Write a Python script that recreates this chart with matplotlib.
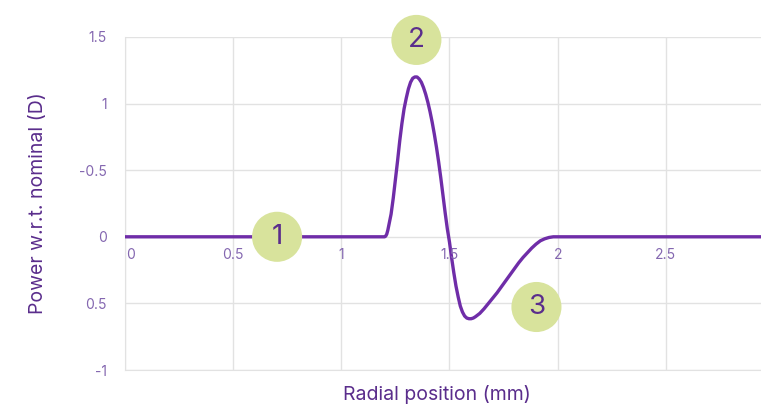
import matplotlib.pyplot as plt

plt.rcParams['font.family'] = ['Inter', 'DejaVu Sans']

# curve
radial = [0, 1.200, 1.205, 1.21, 1.215, 1.22, 1.23, 1.24, 1.25, 1.26, 1.27, 1.28, 1.29,
          1.30, 1.31, 1.32, 1.33, 1.34, 1.35, 1.36, 1.37, 1.38, 1.39, 1.40, 1.41,
          1.42, 1.43, 1.44, 1.45, 1.46, 1.47, 1.48, 1.49, 1.50, 1.51, 1.52, 1.53,
          1.54, 1.55, 1.56, 1.57, 1.58, 1.59, 1.60, 1.61, 1.62, 1.64, 1.66, 1.68,
          1.70, 1.72, 1.74, 1.76, 1.78, 1.80, 1.82, 1.84, 1.86, 1.88, 1.90, 1.92,
          1.94, 1.96, 1.98, 2.94]
power = [0, 0, 0.005, 0.02, 0.05, 0.09, 0.17, 0.29, 0.43, 0.57, 0.72, 0.85, 0.96,
         1.04, 1.11, 1.16, 1.19, 1.2, 1.2, 1.185, 1.16, 1.12, 1.07, 1.01, 0.94,
         0.86, 0.77, 0.67, 0.56, 0.44, 0.31, 0.18, 0.06, -0.04, -0.16, -0.27, -0.37,
         -0.45, -0.52, -0.565, -0.595, -0.61, -0.615, -0.615, -0.61, -0.60, -0.575, -0.54, -0.50,
         -0.46, -0.42, -0.375, -0.33, -0.285, -0.24, -0.195, -0.155, -0.12, -0.085, -0.055, -0.03,
         -0.015, -0.005, 0, 0]

# numbered callouts
marker_x = [0.703, 1.347, 1.902]
marker_y = [0, 1.478, -0.527]
marker_labels = ['1', '2', '3']

x_ticks = [0, 0.5, 1, 1.5, 2, 2.5]
x_tick_labels = ['0', '0.5', '1', '1.5', '2', '2.5']
y_ticks = [-1, -0.5, 0, 0.5, 1, 1.5]
y_tick_labels = ['-1', '0.5', '0', '-0.5', '1', '1.5']

line_color = '#6f2da8'
text_color = '#5a2d8c'
tick_color = '#8467b0'
grid_color = '#e2e2e2'
circle_color = '#d8e39c'

fig = plt.figure(figsize=(7.61, 4.07), dpi=100)
ax = fig.add_axes([125 / 761, 37 / 407, 636 / 761, 333 / 407])

ax.plot(radial, power, color=line_color, lw=2.4, solid_capstyle='round',
        solid_joinstyle='round', zorder=3)

ax.scatter(marker_x, marker_y, s=1300, color=circle_color, zorder=4, clip_on=False,
           edgecolors='none')
for mx, my, lab in zip(marker_x, marker_y, marker_labels):
    ax.text(mx, my, lab, ha='center', va='center', fontsize=20, color=text_color,
            zorder=5)

ax.set_xlim(0, 2.94)
ax.set_ylim(-1, 1.5)
ax.set_xticks(x_ticks)
ax.set_yticks(y_ticks)
ax.set_yticklabels(y_tick_labels)
ax.set_xticklabels([])
ax.tick_params(axis='both', length=0)
ax.tick_params(axis='y', colors=tick_color, labelsize=10, pad=13)
ax.grid(True, color=grid_color, lw=1)
ax.set_axisbelow(True)
for side in ['top', 'right']:
    ax.spines[side].set_visible(False)
for side in ['left', 'bottom']:
    ax.spines[side].set_color(grid_color)

# x tick labels sit under the zero line
for xt, lab in zip(x_ticks, x_tick_labels):
    ax.text(xt + (0.005 if xt == 0 else 0), -0.085, lab, ha='left' if xt == 0 else 'center',
            va='top', fontsize=10, color=tick_color)

fig.text(437 / 761, 13 / 407, 'Radial position (mm)', ha='center', va='center',
         fontsize=14, color=text_color)
fig.text(38 / 761, 204 / 407, 'Power w.r.t. nominal (D)', ha='center', va='center',
         rotation=90, fontsize=14, color=text_color)

fig.savefig('out.png', dpi=100)
